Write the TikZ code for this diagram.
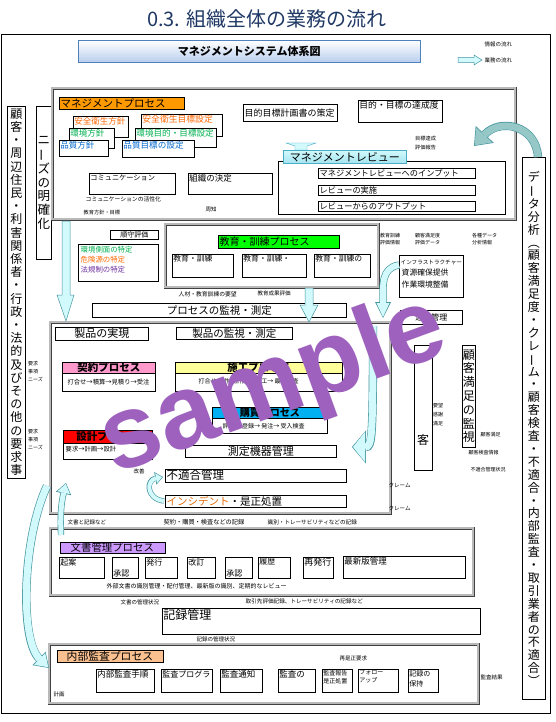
\documentclass[tikz,border=0pt]{standalone}
\usepackage{fontspec}
\usepackage{graphicx}
\setmainfont{Noto Sans CJK JP}
\newfontfamily\wmfont{Liberation Sans}
\usetikzlibrary{arrows.meta,calc}
\pgfdeclarelayer{bg}
\pgfsetlayers{bg,main}
\definecolor{navy}{RGB}{31,56,100}
\definecolor{hdrblue}{RGB}{79,129,189}
\definecolor{hdrfill}{RGB}{184,206,238}
\definecolor{mgorange}{RGB}{255,153,0}
\definecolor{safety}{RGB}{255,102,0}
\definecolor{envgreen}{RGB}{0,176,80}
\definecolor{qblue}{RGB}{0,102,204}
\definecolor{lawpurple}{RGB}{112,48,160}
\definecolor{revfill}{RGB}{165,228,240}
\definecolor{revedge}{RGB}{75,172,198}
\definecolor{brgreen}{RGB}{0,255,0}
\definecolor{kpink}{RGB}{255,153,204}
\definecolor{kyellow}{RGB}{255,255,153}
\definecolor{kblue}{RGB}{0,176,240}
\definecolor{kred}{RGB}{255,0,0}
\definecolor{incorange}{RGB}{228,108,10}
\definecolor{lav}{RGB}{204,153,255}
\definecolor{peach}{RGB}{250,192,144}
\definecolor{cyfill}{RGB}{210,250,252}
\definecolor{cyedge}{RGB}{70,150,160}
\definecolor{tealfill}{RGB}{150,200,200}
\definecolor{wmpurple}{RGB}{158,98,190}
\definecolor{lgray}{RGB}{150,150,150}
\newcommand\fz[1]{\fontsize{#1}{#1}\selectfont}
\newcommand\vlong{\rotatebox[origin=c]{90}{ー}}
\newcommand\bx[7][]{\node[bxs,minimum width={(#5-#3)*1pt},minimum height={(#6-#4)*1pt},anchor=north west,#1] (#2) at (#3,#4) {#7};}
\newcommand\cyarrow[5]{%
  \pgfmathsetmacro\cyw{#2+1.3}\pgfmathsetmacro\cyl{#3+1.8}\pgfmathsetmacro\cyd{#4+2.8}%
  \draw[line width=\cyw pt, draw=cyedge, -{Triangle[length=\cyl pt, width=\cyd pt, line width=0pt]}] #5;
  \draw[line width=#2pt, draw=#1, shorten >=1pt, -{Triangle[length=#3pt, width=#4pt, line width=0pt]}] #5;}
\begin{document}
\begin{tikzpicture}[x=1pt,y=-1pt,
  bxs/.style={draw, line width=0.6pt, fill=white, inner sep=0.5pt, align=center},
  arr/.style={line width=0.5pt, -{Latex[length=3.2pt,width=2.6pt]}},
  garr/.style={line width=1pt, draw=lgray, -{Latex[length=3.5pt,width=3pt]}},
  dbl/.style={draw=black!75, double=gray!55, double distance=1.6pt, line width=0.5pt, fill=none},
  tt/.style={inner sep=0.5pt, anchor=west},
  tl/.style={anchor=north west, inner sep=1.2pt, align=left},
  bl/.style={anchor=south west, inner sep=1.2pt, align=left},
  sm/.style={anchor=north west, inner sep=0pt, align=left},
]
\useasboundingbox (0,0) rectangle (555,722);
\fill[white] (0,0) rectangle (555,722);
\foreach \v in {73,76,81,85,86,97,98,106,107,109,115,126,132,140,142,170,175,190,193,200,202,223,227,230,240,248,250,253,254,257,263,266,267,280,281,283,297,308,323,335,337,342,349,366,374,378,379,397,400,405,408,412,418,420,428,439,443,450,458,467,470,475,479,490,503,512,569,661,663,676,680,683,697}
  {\coordinate (x\v) at (\v,0); \coordinate (y\v) at (0,\v);}

% ---------- title, frame, header, legend
\node[anchor=west, font=\fz{20}, text=navy, inner sep=0] (title) at (147,19) {0.3. 組織全体の業務の流れ};
\bx[fill=none, line width=0.8pt]{outer}{1}{34}{550}{713}{}
\bx[draw=hdrblue, top color=white, bottom color=hdrfill, font=\bfseries\fz{11}]{hdr}{78}{40}{420}{62}{マネジメントシステム体系図}
\coordinate (lga) at (458,44); \coordinate (lgb) at (481,44);
\node[tt, font=\fz{5.5}] (lgt1) at (484,44) {情報の流れ};
\draw[draw=cyedge, fill=cyfill, line width=0.5pt] (458,57.5) -- (474,57.5) -- (474,55) -- (482,60) -- (474,65) -- (474,62.5) -- (458,62.5) -- cycle;
\node[tt, font=\fz{5.5}] (lgt2) at (484,60) {業務の流れ};

% ---------- side columns
\bx[font=\fontsize{12}{13.2}\selectfont, inner sep=0pt]{lc}{7}{106}{25}{478}{顧\\客\\・\\周\\辺\\住\\民\\・\\利\\害\\関\\係\\者\\・\\行\\政\\・\\法\\的\\及\\び\\そ\\の\\他\\の\\要\\求\\事}
\bx[font=\fontsize{12.5}{13.7}\selectfont, inner sep=0pt]{needs}{36}{106}{51}{259}{ニ\\\vlong\\ズ\\の\\明\\確\\化}
\bx[font=\fontsize{12}{12.9}\selectfont, inner sep=0pt]{rc}{522}{157}{545}{699}{デ\\\vlong\\タ\\分\\析\\︵\\顧\\客\\満\\足\\度\\・\\ク\\レ\\\vlong\\ム\\・\\顧\\客\\検\\査\\・\\不\\適\\合\\・\\内\\部\\監\\査\\・\\取\\引\\業\\者\\の\\不\\適\\合\\︶}

% ---------- management process
\bx[dbl]{mgmt}{52}{88}{515}{219}{}
\bx[fill=mgorange, inner sep=0pt]{mglab}{59}{97}{184}{109}{}
\node[tt, font=\fz{10.5}] (mgt) at (60,103) {マネジメントプロセス};
\bx{p1}{73}{116}{128}{137}{}
\node[tl, font=\fz{8.5}, text=safety] (p1t) at (p1.north west) {安全衛生方針};
\bx{p2}{69}{128}{114}{148}{}
\node[tl, font=\fz{8.5}, text=envgreen] (p2t) at (p2.north west) {環境方針};
\bx{p3}{59}{140}{108}{156}{}
\node[tl, font=\fz{8.5}, text=qblue] (p3t) at (p3.north west) {品質方針};
\bx{g1}{141}{114}{222}{136}{}
\node[tl, font=\fz{8.8}, text=safety] (g1t) at (g1.north west) {安全衛生目標設定};
\bx{g2}{135}{128}{216}{147}{}
\node[tl, font=\fz{8.6}, text=envgreen] (g2t) at (g2.north west) {環境目的・目標設定};
\bx{g3}{122}{140}{194}{157}{}
\node[tl, font=\fz{8.6}, text=qblue] (g3t) at (g3.north west) {品質目標の設定};
\bx{plan}{243}{104}{337}{121}{}
\node[tt, font=\fz{9}] (plant) at ($(plan.west)+(1,0)$) {目的目標計画書の策定};
\bx{ach}{358}{100}{442}{122}{}
\node[tl, font=\fz{8.8}] (acht) at (ach.north west) {目的・目標の達成度};
\node[sm, font=\fontsize{5.2}{8.5}\selectfont] (l9) at (415,136) {目標達成\\評価報告};
\bx[fill=none]{revc}{278}{161}{505}{214}{}
\draw[draw=revedge, fill=cyfill, line width=0.4pt] (286,143) -- (316,143) -- (307,146) -- (307,150) -- (295,150) -- (295,146) -- cycle;
\bx[draw=revedge, top color=cyfill, bottom color=revfill, font=\fz{11}, inner sep=0pt]{rev}{283}{150}{406}{163}{マネジメントレビュー}
\bx{ri1}{318}{168}{475}{178}{}
\node[tt, font=\fz{8.2}] (ri1t) at ($(ri1.west)+(1,0)$) {マネジメントレビューへのインプット};
\bx{ri2}{318}{185}{475}{195}{}
\node[tt, font=\fz{8.2}] (ri2t) at ($(ri2.west)+(1,0)$) {レビューの実施};
\bx{ri3}{318}{201}{475}{211}{}
\node[tt, font=\fz{8.2}] (ri3t) at ($(ri3.west)+(1,0)$) {レビューからのアウトプット};
\bx{com}{89}{173}{175}{194}{}
\node[tl, font=\fz{7.2}] (comt) at (com.north west) {コミュニケーション};
\bx{org}{188}{173}{272}{194}{}
\node[tl, font=\fz{8.5}] (orgt) at (org.north west) {組織の決定};
\node[tt, font=\fz{5.8}] (l1) at (85,199) {コミュニケーションの活性化};
\node[tt, font=\fz{5.2}] (l2) at (83,213) {教育方針・目標};
\node[tt, font=\fz{5.5}] (l3) at (205,209) {周知};

% ---------- environment / compliance
\bx{env}{78}{244}{158}{281}{}
\node[tt, font=\fz{7.4}, text=envgreen] (envt1) at (80,250) {環境側面の特定};
\node[tt, font=\fz{7.4}, text=safety] (envt2) at (80,260) {危険源の特定};
\node[tt, font=\fz{7.4}, text=lawpurple] (envt3) at (80,270) {法規制の特定};
\bx[font=\fz{7}, inner sep=0pt]{comp}{110}{230}{158}{239}{順守評価}

% ---------- education
\bx[dbl]{edu}{165}{224}{378}{287}{}
\bx[fill=brgreen, inner sep=0pt]{edulab}{218}{235}{339}{248}{}
\node[tt, font=\fz{10}] (edut) at (219,241.5) {教育・訓練プロセス};
\bx{e1}{172}{254}{233}{277}{}
\node[tl, font=\fz{7.8}] (e1t) at (e1.north west) {教育・訓練};
\bx{e2}{242}{254}{306}{277}{}
\node[tl, font=\fz{7.8}] (e2t) at (e2.north west) {教育・訓練・};
\bx{e3}{314}{254}{370}{277}{}
\node[tl, font=\fz{7.8}] (e3t) at (e3.north west) {教育・訓練の};
\node[tt, font=\fz{5.8}] (l4) at (178,294) {人材・教育訓練の要望};
\node[tt, font=\fz{5.5}] (l5) at (257,293) {教育成果評価};
\bx[font=\fz{10.5}, inner sep=0pt]{pm}{92}{303}{346}{317}{プロセスの監視・測定}

% ---------- right middle
\node[sm, font=\fontsize{5}{7}\selectfont] (l6) at (380,233) {教育訓練\\評価情報};
\node[sm, font=\fontsize{5}{7}\selectfont] (l7) at (415,233) {顧客満足度\\評価データ};
\node[sm, font=\fontsize{5}{7}\selectfont] (l8) at (472,233) {各種データ\\分析情報};
\bx{inf}{399}{255}{463}{297}{}
\node[tt, font=\fz{5.6}] (inft1) at (400,262) {インフラストラクチャー};
\node[tt, font=\fz{7.8}] (inft2) at (401,273) {資源確保提供};
\node[tt, font=\fz{7.8}] (inft3) at (401,285) {作業環境整備};
\bx[font=\fz{8}, inner sep=0pt]{op}{400}{310}{462}{324}{運用管理}

% ---------- production
\bx[dbl]{prod}{50}{322}{390}{513}{}
\bx[font=\fz{11}, inner sep=0pt]{real}{55}{327}{148}{340}{製品の実現}
\bx[font=\fz{10.5}, inner sep=0pt]{pmon}{176}{327}{292}{339}{製品の監視・測定}
\bx{kei}{62}{362}{155}{391}{}
\bx[fill=kpink, font=\bfseries\fz{10.5}, inner sep=0pt]{keilab}{62}{362}{155}{373}{契約プロセス}
\node[font=\fz{6.3}, inner sep=0.5pt] (keis) at (108.5,382) {打合せ→積算→見積り→受注};
\node[sm, font=\fontsize{5}{8}\selectfont] (l10) at (28,361) {要求\\事項\\ニーズ};
\bx{sek}{63}{430}{152}{459}{}
\bx[fill=kred, font=\bfseries\fz{10.5}, inner sep=0pt]{seklab}{63}{430}{152}{443}{設計プロセス}
\node[tt, font=\fz{6.3}] (seks) at (65,449) {要求→計画→設計};
\node[sm, font=\fontsize{5}{8}\selectfont] (l11) at (28,429) {要求\\事項\\ニーズ};
\bx{sek2}{175}{362}{342}{391}{}
\bx[fill=kyellow, font=\bfseries\fz{10.5}, inner sep=0pt]{sek2lab}{175}{362}{342}{373}{施工プロセス}
\node[tt, font=\fz{6}] (sek2s) at (198,381) {打合せ→ 作業計画→ 施工→ 最終検査};
\bx{kob}{212}{407}{327}{433}{}
\bx[fill=kblue, font=\bfseries\fz{10}, inner sep=0pt]{koblab}{212}{407}{327}{418}{購買プロセス}
\node[tt, font=\fz{6}] (kobs) at (222,426) {評価→ 登録→ 発注→ 受入検査};
\bx[font=\fz{11}, inner sep=0pt]{sok}{185}{445}{336}{457}{測定機器管理}
\bx{fut}{165}{469}{346}{482}{}
\node[tt, font=\fz{11.5}] (futt) at (166,475.5) {不適合管理};
\bx{inc}{165}{495}{346}{507}{}
\node[tt, font=\fz{10.5}] (inct) at (166,501) {\textcolor{incorange}{インシデント}・是正処置};
\node[tt, font=\fz{5.5}] (l12) at (133,471) {改善};

% ---------- customer
\bx{kyaku}{414}{345}{432}{470}{}
\node[font=\fz{12}, inner sep=0pt] (kyakut) at (423,440) {客};
\bx[font=\fontsize{12}{13.8}\selectfont, inner sep=0pt]{csm}{462}{345}{475}{447}{顧\\客\\満\\足\\の\\監\\視}
\node[sm, font=\fontsize{5}{9}\selectfont] (l13) at (433,403) {要望\\感謝\\満足};
\node[tt, font=\fz{5}] (l14) at (480,435) {顧客満足};
\node[tt, font=\fz{5}] (l15) at (468,453) {顧客検査情報};
\node[tt, font=\fz{5}] (l16) at (470,470) {不適合管理状況};
\node[tt, font=\fz{5.5}] (l17) at (388,485) {クレーム};
\node[tt, font=\fz{5.5}] (l18) at (388,508) {クレーム};

% ---------- records labels
\node[tt, font=\fz{5.5}] (l19) at (67,522) {文書と記録など};
\node[tt, font=\fz{6.2}] (l20) at (163,522) {契約・購買・検査などの記録};
\node[tt, font=\fz{5.6}] (l21) at (267,522) {識別・トレーサビリティなどの記録};

% ---------- document management
\bx[dbl]{doc}{50}{528}{473}{595}{}
\bx[fill=lav, inner sep=0pt]{doclab}{60}{542}{165}{553}{}
\node[tt, font=\fz{10.4}] (doct) at (70,547.5) {文書管理プロセス};
\bx{d1}{59}{557}{104}{578}{}  \node[tl, font=\fz{8}] (d1t) at (d1.north west) {起案};
\bx{d2}{112}{557}{138}{578}{} \node[bl, font=\fz{8}] (d2t) at (d2.south west) {承認};
\bx{d3}{145}{557}{177}{578}{} \node[tl, font=\fz{8}] (d3t) at (d3.north west) {発行};
\bx{d4}{187}{557}{215}{578}{} \node[tl, font=\fz{8}] (d4t) at (d4.north west) {改訂};
\bx{d5}{225}{557}{252}{578}{} \node[bl, font=\fz{8}] (d5t) at (d5.south west) {承認};
\bx{d6}{258}{557}{290}{578}{} \node[tl, font=\fz{8}] (d6t) at (d6.north west) {履歴};
\bx{d7}{303}{557}{333}{578}{} \node[tl, font=\fz{9}] (d7t) at (d7.north west) {再発行};
\bx{d8}{343}{556}{465}{578}{} \node[tl, font=\fz{8.5}] (d8t) at (d8.north west) {最新版管理};
\node[tt, font=\fz{6}] (l22) at (106,586) {外部文書の識別管理・配付管理、最新版の識別、定期的なレビュー};
\node[tt, font=\fz{5.5}] (l23) at (120,602) {文書の管理状況};
\node[tt, font=\fz{5.6}] (l24) at (245,601) {取引先評価記録、トレーサビリティの記録など};
\bx{rec}{162}{608}{480}{634}{}
\node[tl, font=\fz{12}] (rect) at (rec.north west) {記録管理};
\node[tt, font=\fz{5.5}] (l25) at (196,639) {記録の管理状況};

% ---------- internal audit
\bx[dbl]{aud}{49}{644}{478}{703}{}
\bx[fill=peach, inner sep=0pt]{audlab}{57}{650}{163}{662}{}
\node[tt, font=\fz{10.8}] (audt) at (66,656) {内部監査プロセス};
\bx{a1}{96}{669}{154}{692}{}  \node[tl, font=\fz{8.5}] (a1t) at (a1.north west) {内部監査手順};
\bx{a2}{161}{669}{212}{692}{} \node[tl, font=\fz{8}] (a2t) at (a2.north west) {監査プログラ};
\bx{a3}{220}{669}{262}{692}{} \node[tl, font=\fz{8.5}] (a3t) at (a3.north west) {監査通知};
\bx{a4}{278}{669}{315}{692}{} \node[tl, font=\fz{8.5}] (a4t) at (a4.north west) {監査の};
\bx{a5}{322}{669}{352}{692}{} \node[tl, font=\fontsize{6}{8}\selectfont] (a5t) at (a5.north west) {監査報告\\是正処置};
\bx{a6}{358}{669}{398}{692}{} \node[tl, font=\fontsize{6}{8}\selectfont] (a6t) at (a6.north west) {フォロー\\アップ};
\bx{a7}{408}{669}{438}{692}{} \node[tl, font=\fontsize{7}{10}\selectfont] (a7t) at (a7.north west) {記録の\\保持};
\node[tt, font=\fz{5.5}] (l26) at (53,694) {計画};
\node[tt, font=\fz{5.5}] (l27) at (339,658) {再是正要求};
\node[tt, font=\fz{5.5}] (l28) at (480,677) {監査結果};

% ---------- connectors (behind boxes)
\begin{pgfonlayer}{bg}
\draw[arr] (lga) -- (lgb);
\draw[arr] ($(lc.north east)+(0,20)$) -- ($(needs.north west)+(0,20)$);
\draw[arr] ($(needs.north east)+(0,20)$) -- (p1.west |- y126);
\draw[arr] (p1.east) -- (g1.west |- p1.east);
\draw[arr] ($(g1.north east)+(0,1)$) -- ($(plan.north west)+(0,11)$);
\draw[arr] ($(plan.north east)+(0,12)$) -- ($(ach.north west)+(0,16)$);
\draw[arr] (ach.south -| x379) |- (x248 |- y140) -- (plan.south -| x248);
\draw[arr] (org.north -| x257) -- (plan.south -| x257);
\draw[arr] (plan.south -| x267) -- (org.north -| x267);
\draw[arr] (ach.south -| x408) -- (ri1.north -| x408);
\draw[arr] (ri1.south -| x408) -- (ri2.north -| x408);
\draw[arr] (ri2.south -| x408) -- (ri3.north -| x408);
\draw[arr] (revc.north west) -| ($(g3.south east)+(-6,0)$);
\draw[arr] (revc.south -| x490) |- (ri1.east);
\draw[arr] (p3.south -| x97) -- (com.north -| x97);
\draw[arr] ($(com.north east)+(0,5)$) -- ($(org.north west)+(0,5)$);
\draw[arr] (org.south -| x202) -- (e1.north -| x202);
\draw[arr, draw=gray, line width=0.8pt] (p3.south -| x81) |- (edu.west |- y227);
\draw[arr] (env.north -| x107) -- (mgmt.south -| x107);
\draw[arr] (comp.north -| x132) -- (mgmt.south -| x132);
\draw[arr] (env.north -| x132) -- (comp.south -| x132);
\draw[arr] (needs.east |- y254) -- (env.west |- y254);
\draw[arr] (lc.east |- y263) -- (env.west |- y263);
\draw[arr] (lc.east |- y283) -- (edu.west |- y283);
\draw[arr] (env.south -| x85) -- (prod.north -| x85);
\draw[arr] (e1.east |- y266) -- (e2.west |- y266);
\draw[arr] (e2.east |- y266) -- (e3.west |- y266);
\draw[arr] (e3.south -| x342) |- (x202 |- y281) -- (e1.south -| x202);
\draw[arr] (edu.south -| x170) -- (pm.north -| x170);
\draw[arr] (pm.north -| x175) -- (edu.south -| x175);
\draw[arr] (pm.north -| x253) -- (edu.south -| x253);
\draw[arr] (edu.east |- y250) -| (mgmt.south -| x397);
\draw[arr] (mgmt.south -| x408) -- (inf.north -| x408);
\draw[arr] (csm.north -| x467) -- (mgmt.south -| x467);
\draw[garr] (aud.east |- y661) -| (mgmt.south -| x512);
\draw[arr] (pm.east |- y308) -- (rc.west |- y308);
\draw[arr] (pmon.east |- y335) -- (rc.west |- y335);
\draw[arr] (kei.north -| x115) -- (pm.south -| x115);
\draw[arr] (sek2.north -| x280) -- (pmon.south -| x280);
\draw[arr] (pmon.south -| x250) |- (x97 |- y349) -- (kei.north -| x97);
\draw[arr] (lc.east |- y374) -- (kei.west |- y374);
\draw[arr, line width=1pt] (lc.east |- y443) -- (sek.west |- y443);
\draw[arr] (sek.north -| x73) -- (kei.south -| x73);
\draw[arr] (kei.south -| x86) -- (sek.north -| x86);
\draw[arr] (kob.west |- y420) -| (kei.south -| x97);
\draw[arr] (kei.south -| x106) |- (x190 |- y412) -- (sek2.south -| x190);
\draw[arr] (sek2.south -| x200) |- (x142 |- y400) -- (kei.south -| x142);
\draw[arr] (kei.east |- y366) -- (sek2.west |- y366);
\draw[arr] (sek2.south -| x223) -- (kob.north -| x223);
\draw[arr] (kob.north -| x230) -- (sek2.south -| x230);
\draw[arr] (sek2.south -| x297) -- (kob.north -| x297);
\draw[arr] (kob.south -| x250) -- (sok.north -| x250);
\draw[arr] (sek.east |- y450) -- (sok.west |- y450);
\draw[arr] (sok.south -| x323) -- (fut.north -| x323);
\draw[arr] (fut.south -| x263) -- (inc.north -| x263);
\draw[arr] (prod.east |- y458) -- (kyaku.west |- y458);
\draw[arr] (kyaku.east |- y458) -- (rc.west |- y458);
\draw[arr] (kyaku.east |- y439) -- (csm.west |- y439);
\draw[arr] (csm.east |- y439) -- (rc.west |- y439);
\draw[arr] (fut.east |- y475) -- (rc.west |- y475);
\draw[arr] (op.south -| x405) |- (fut.east |- y470);
\draw[arr] (kyaku.south -| x418) |- (fut.east |- y479);
\draw[arr] (kyaku.south -| x428) |- (inc.east |- y503);
\draw[arr] (prod.south -| x263) -- (doc.north -| x263);
\draw[arr] (d1.east |- y569) -- (d2.west |- y569);
\draw[arr] (d2.east |- y569) -- (d3.west |- y569);
\draw[arr] (d3.east |- y569) -- (d4.west |- y569);
\draw[arr] (d4.east |- y569) -- (d5.west |- y569);
\draw[arr] (d5.east |- y569) -- (d6.west |- y569);
\draw[arr] (d6.east |- y569) -- (d7.west |- y569);
\draw[arr] (d7.east |- y569) -- (d8.west |- y569);
\draw[arr] (aud.north -| x98) -- (doc.south -| x98);
\draw[arr] (doc.south -| x109) -- (aud.north -| x109);
\draw[arr] (doc.south -| x240) -- (rec.north -| x240);
\draw[arr] (rec.south -| x193) -- (aud.north -| x193);
\draw[arr] (a1.east |- y680) -- (a2.west |- y680);
\draw[arr] (a2.east |- y680) -- (a3.west |- y680);
\draw[arr] (a3.east |- y680) -- (a4.west |- y680);
\draw[arr] (a4.east |- y680) -- (a5.west |- y680);
\draw[arr] (a5.east |- y680) -- (a6.west |- y680);
\draw[arr] (a6.east |- y680) -- (a7.west |- y680);
\draw[arr] (a7.south -| x420) |- (x76 |- y697) |- (a1.west |- y676);
\draw[arr] (a6.north -| x378) |- (x337 |- y663) -- (a5.north -| x337);
\draw[arr] (a7.east |- y683) -- (rc.west |- y683);
\end{pgfonlayer}

% ---------- business-flow arrows
\draw[draw=cyedge, fill=cyfill, line width=0.5pt] (62,221) -- (70,221) -- (70,295) -- (74,295) -- (66,321) -- (57,295) -- (62,295) -- cycle;
\draw[draw=cyedge, fill=cyfill, line width=0.5pt] (305,288) -- (313,288) -- (313,305) -- (318,305) -- (309,322) -- (300,305) -- (305,305) -- cycle;
\cyarrow{cyfill}{6}{14}{13}{(399,265) .. controls (381,268) and (383,285) .. (383,318)}
\cyarrow{cyfill}{7}{12}{30}{(373,326) .. controls (373,440) and (372,447) .. (352,447)}
\cyarrow{cyfill}{4}{6}{10}{(164,501) .. controls (146,499) and (146,480) .. (163,477)}
\cyarrow{cyfill}{5}{9}{13}{(61,535) .. controls (60,510) and (62,500) .. (66,483)}
\cyarrow{cyfill}{7}{12}{16}{(47,486) .. controls (22,540) and (20,640) .. (49,668)}
\cyarrow{tealfill}{7}{14}{22}{(538,157) .. controls (536,125) and (500,118) .. (474,146)}

% ---------- watermark
\node[font=\wmfont\bfseries\fontsize{104}{104}\selectfont, text=wmpurple, rotate=20, inner sep=0pt] (wm) at (274,388) {sample};
\end{tikzpicture}
\end{document}
